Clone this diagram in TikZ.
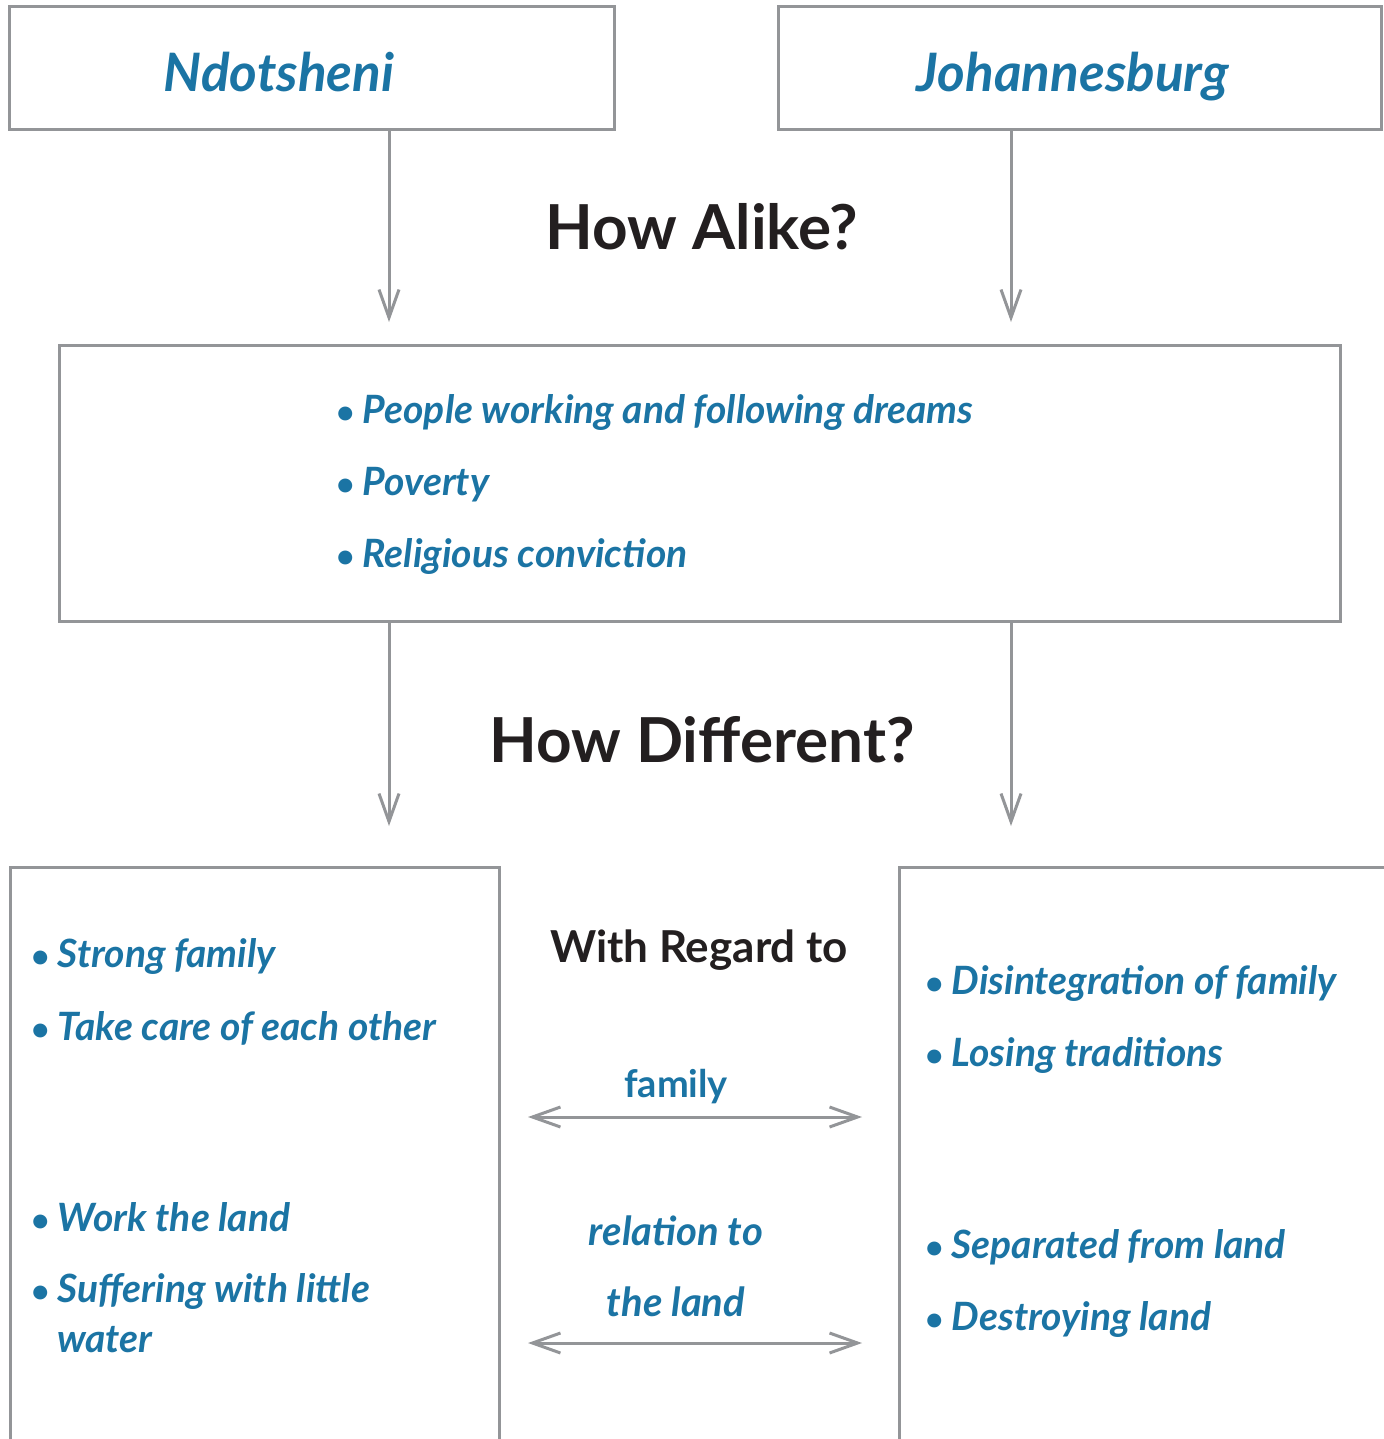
\documentclass[tikz,border=0pt]{standalone}
\usepackage{fontspec}
\setmainfont{Lato}
\newfontfamily\handfont{Lato Bold Italic}
\newfontfamily\headfont{Lato Bold}
\usetikzlibrary{arrows.meta}
\definecolor{framegrey}{HTML}{939598}
\definecolor{inkblue}{HTML}{1B74A4}
\definecolor{inkdark}{HTML}{231F20}
\tikzset{
  frame/.style={draw=framegrey, line width=3pt, rectangle, inner sep=0pt},
  arr/.style={draw=framegrey, line width=3pt, -{Straight Barb[length=28pt,width=20pt]}},
  dblarr/.style={draw=framegrey, line width=3pt, {Straight Barb[length=28pt,width=20pt]}-{Straight Barb[length=28pt,width=20pt]}},
  title/.style={text=inkblue, font=\handfont\fontsize{53}{60}\selectfont, inner sep=0pt},
  heading/.style={text=inkdark, font=\headfont\fontsize{62}{70}\selectfont, inner sep=0pt, anchor=base},
  subhead/.style={text=inkdark, font=\headfont\fontsize{44}{50}\selectfont, inner sep=0pt, anchor=base},
  item/.style={text=inkblue, font=\handfont\fontsize{39}{50}\selectfont, inner sep=0pt, anchor=base west},
  plainblue/.style={text=inkblue, font=\headfont\fontsize{38}{50}\selectfont, inner sep=0pt, anchor=base},
  bluemid/.style={text=inkblue, font=\handfont\fontsize{40}{50}\selectfont, inner sep=0pt, anchor=base},
}
\newcommand{\bul}{{\fontsize{32}{40}\selectfont\textbullet}\hspace{8pt}}
\begin{document}
\begin{tikzpicture}[x=1pt,y=-1pt]
\useasboundingbox (0,0) rectangle (1383,1439);

% place boxes
\node[frame, minimum width=605pt, minimum height=123pt] (nd) at (311.5,68.5) {};
\node[frame, minimum width=603pt, minimum height=123pt] (jo) at (1079.5,68.5) {};
\node[title, anchor=base] (ndt) at (279,92) {Ndotsheni};
\node[title, anchor=base] (jot) at (1073,92) {Johannesburg};

% shared features
\node[frame, minimum width=1281pt, minimum height=276pt] (alike) at (699.5,483) {};
\node[item] (a1) at (336,423) {\bul People working and following dreams};
\node[item] (a2) at (336,495) {\bul Poverty};
\node[item] (a3) at (336,567) {\bul Religious conviction};

\node[heading] (howalike) at (702,250) {How Alike?};
\node[heading] (howdiff) at (702,762) {How Different?};

% arrows into the shared box
\coordinate (tl) at (389,322);
\coordinate (tr) at (1011,322);
\draw[arr] (nd.south -| tl) -- (tl);
\draw[arr] (jo.south -| tr) -- (tr);

% arrows out of the shared box
\coordinate (bl) at (389,826);
\coordinate (br) at (1011,826);
\draw[arr] (alike.south -| bl) -- (bl);
\draw[arr] (alike.south -| br) -- (br);

% differences: open-ended boxes running off the page
\node[frame, minimum width=489pt, minimum height=620pt, anchor=north west] (left) at (9,866) {};
\node[frame, minimum width=520pt, minimum height=620pt, anchor=north west] (right) at (898,866) {};

\node[item] (l1) at (31,967) {\bul Strong family};
\node[item] (l2) at (31,1040) {\bul Take care of each other};
\node[item] (l3) at (31,1231) {\bul Work the land};
\node[item] (l4) at (31,1302) {\bul Suffering with little};
\node[item] (l5) at (57,1352) {water};

\node[item] (r1) at (925,994) {\bul Disintegration of family};
\node[item] (r2) at (925,1066) {\bul Losing traditions};
\node[item] (r3) at (925,1258) {\bul Separated from land};
\node[item] (r4) at (925,1330) {\bul Destroying land};

\node[subhead] (regard) at (699,962) {With Regard to};
\node[plainblue] (fam) at (676,1097) {family};
\node[bluemid] (rel1) at (676,1245) {relation to};
\node[bluemid] (rel2) at (676,1316) {the land};

\coordinate (f1) at (528,1117);
\coordinate (f2) at (862,1117);
\coordinate (g1) at (528,1343);
\coordinate (g2) at (862,1343);
\draw[dblarr] (f1) -- (f2);
\draw[dblarr] (g1) -- (g2);
\end{tikzpicture}
\end{document}
